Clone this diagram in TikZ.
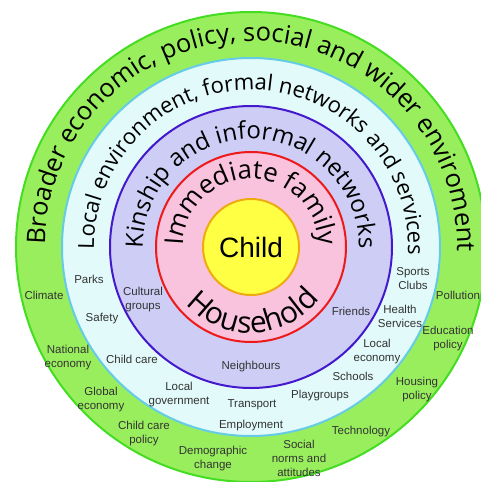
\documentclass[tikz,border=0pt]{standalone}
\usepackage{fontspec}
\setmainfont{Liberation Sans}
\newfontfamily\ringfont{Open Sans}
\usetikzlibrary{decorations.text}
\definecolor{gfill}{HTML}{99EE5E}
\definecolor{gline}{HTML}{44DD22}
\definecolor{cfill}{HTML}{E2FAFA}
\definecolor{cline}{HTML}{66CCE6}
\definecolor{pfill}{HTML}{CDCDF5}
\definecolor{pline}{HTML}{4418CC}
\definecolor{rfill}{HTML}{F9C2DD}
\definecolor{rline}{HTML}{EE1A1A}
\definecolor{yfill}{HTML}{FFFF44}
\definecolor{yline}{HTML}{EEAA11}
\definecolor{labelc}{HTML}{333333}
\begin{document}
\begin{tikzpicture}[x=1pt,y=1pt,
  ringc/.style={circle, line width=2pt, inner sep=0pt},
  lbl/.style={font=\fontsize{11.5}{14}\selectfont, text=labelc, align=center, inner sep=0pt},
  ringtext/.style={decorate, decoration={text along path, text align=center, text={#1}}}
]
\useasboundingbox (0,0) rectangle (481,-482);
\coordinate (C) at (251,-247);
\begin{scope}
\clip (0,0) rectangle (481,-482);
\node[ringc, fill=gfill, draw=gline, minimum size=470] (outer) at (C) {};
\node[ringc, fill=cfill, draw=cline, minimum size=378] (local) at (C) {};
\node[ringc, fill=pfill, draw=pline, minimum size=282] (kin) at (C) {};
\node[ringc, fill=rfill, draw=rline, minimum size=190] (fam) at (C) {};
\node[ringc, fill=yfill, draw=yline, minimum size=96] (child) at (C) {};
\end{scope}
\node[font=\fontsize{28}{28}\selectfont] (childt) at (C) {Child};

\path[ringtext={|\ringfont\fontsize{25.5}{25.5}\selectfont|Broader economic, policy, social and wider enviroment}]
  (C) ++(249:206) arc[start angle=249, end angle=-71, radius=206];
\path[ringtext={|\ringfont\fontsize{22}{22}\selectfont|Local environment, formal networks and services}]
  (C) ++(249:157) arc[start angle=249, end angle=-71, radius=157];
\path[ringtext={|\ringfont\fontsize{24}{24}\selectfont|Kinship and informal networks}]
  (C) ++(250:108) arc[start angle=250, end angle=-70, radius=108];
\path[ringtext={|\ringfont\fontsize{26}{26}\selectfont|Immediate family}]
  (C) ++(250:68) arc[start angle=250, end angle=-70, radius=68];
\path[ringtext={|\ringfont\fontsize{30}{30}\selectfont|Household}]
  (C) ++(152:86) arc[start angle=152, end angle=392, radius=86];

\node[lbl] (climate) at (44,-295) {Climate};
\node[lbl] (parks) at (89,-279) {Parks};
\node[lbl] (cultural) at (143,-300) {Cultural\\groups};
\node[lbl] (safety) at (102,-319) {Safety};
\node[lbl] (natecon) at (68,-358) {National\\economy};
\node[lbl] (childcare) at (132,-359) {Child care};
\node[lbl] (globecon) at (101,-400) {Global\\economy};
\node[lbl] (localgov) at (179,-395) {Local\\government};
\node[lbl] (ccpolicy) at (144,-434) {Child care\\policy};
\node[lbl] (demog) at (213,-459) {Demographic\\change};
\node[lbl] (transport) at (252,-405) {Transport};
\node[lbl] (employ) at (251,-426) {Employment};
\node[lbl] (sports) at (413,-279) {Sports\\Clubs};
\node[lbl] (pollution) at (458,-295) {Pollution};
\node[lbl] (friends) at (351,-311) {Friends};
\node[lbl] (health) at (400,-316) {Health\\Services};
\node[lbl] (edu) at (448,-339) {Education\\policy};
\node[lbl] (localecon) at (377,-352) {Local\\economy};
\node[lbl] (schools) at (353,-376) {Schools};
\node[lbl] (neigh) at (251,-367) {Neighbours};
\node[lbl] (play) at (320,-396) {Playgroups};
\node[lbl] (housing) at (417,-390) {Housing\\policy};
\node[lbl] (tech) at (361,-432) {Technology};
\node[lbl] (social) at (299,-458) {Social\\norms and\\attitudes};
\end{tikzpicture}
\end{document}
